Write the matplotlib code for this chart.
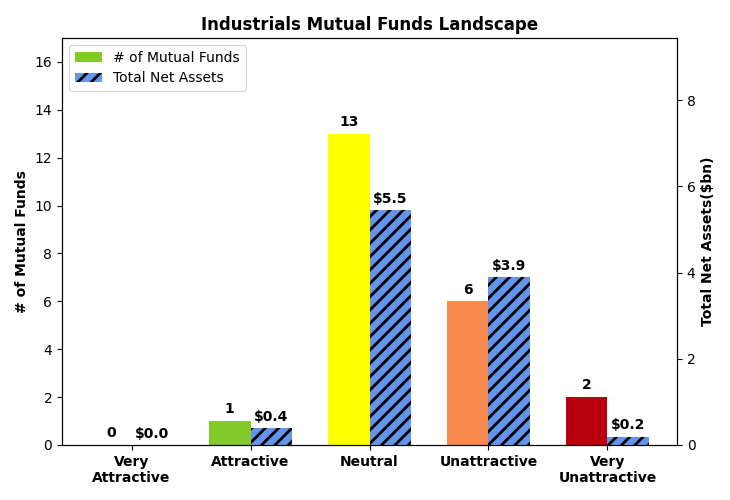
import numpy as np
import matplotlib
matplotlib.use("Agg")
import matplotlib.pyplot as plt

# data
categories = ["Very\nAttractive", "Attractive", "Neutral", "Unattractive", "Very\nUnattractive"]
num_funds = [0, 1, 13, 6, 2]
net_assets = [0.0, 0.39, 5.45, 3.9, 0.19]
asset_labels = ["$0.0", "$0.4", "$5.5", "$3.9", "$0.2"]
colors = ["#82C92A", "#82C92A", "#FFFF00", "#F88A50", "#B8000F"]

# drawn at dpi 80 so the hatch spacing matches; sizes scaled by 1.25
s = 1.25
plt.rcParams["hatch.linewidth"] = 2.5
plt.rcParams["axes.linewidth"] = 0.8 * s
plt.rcParams["xtick.major.size"] = 3.5 * s
plt.rcParams["ytick.major.size"] = 3.5 * s
plt.rcParams["xtick.major.width"] = 0.8 * s
plt.rcParams["ytick.major.width"] = 0.8 * s
plt.rcParams["xtick.major.pad"] = 3.5 * s
plt.rcParams["ytick.major.pad"] = 3.5 * s
plt.rcParams["legend.fontsize"] = 10 * s

width = 0.35
ind = np.arange(len(categories))

fig = plt.figure(figsize=(730 / 80, 500 / 80), dpi=80)
ax = fig.add_axes([62 / 730, 1 - 445 / 500, 615 / 730, 407 / 500])
ax2 = ax.twinx()

# funds bars
b1 = ax.bar(ind, num_funds, width, color=colors, label="# of Mutual Funds")
# assets bars
b2 = ax2.bar(ind + width, net_assets, width, color="#6495ED", hatch="//",
             edgecolor="black", linewidth=0, label="Total Net Assets")

ax.set_ylim(0, 17)
ax2.set_ylim(0, 9.44)
ax.set_yticks(range(0, 17, 2))
ax2.set_yticks(range(0, 9, 2))

ax.set_xticks(ind + width / 2)
ax.set_xticklabels(categories, fontweight="bold", fontsize=10 * s)
ax.tick_params(labelsize=10 * s)
ax2.tick_params(labelsize=10 * s)

ax.set_ylabel("# of Mutual Funds", fontweight="bold", fontsize=10 * s, labelpad=4 * s)
ax2.set_ylabel("Total Net Assets($bn)", fontweight="bold", fontsize=10 * s, labelpad=4 * s)
ax.set_title("Industrials Mutual Funds Landscape", fontweight="bold", fontsize=12 * s, pad=6 * s)

# value labels
for rect, v in zip(b1, num_funds):
    ax.text(rect.get_x() + rect.get_width() / 2, rect.get_height() + 0.2, str(v),
            ha="center", va="bottom", fontweight="bold", fontsize=10 * s)
for rect, lab in zip(b2, asset_labels):
    ax2.text(rect.get_x() + rect.get_width() / 2, rect.get_height() + 0.1, lab,
             ha="center", va="bottom", fontweight="bold", fontsize=10 * s)

h1, l1 = ax.get_legend_handles_labels()
h2, l2 = ax2.get_legend_handles_labels()
ax.legend(h1 + h2, l1 + l2, loc="upper left")

plt.savefig("out.png", dpi=80)
